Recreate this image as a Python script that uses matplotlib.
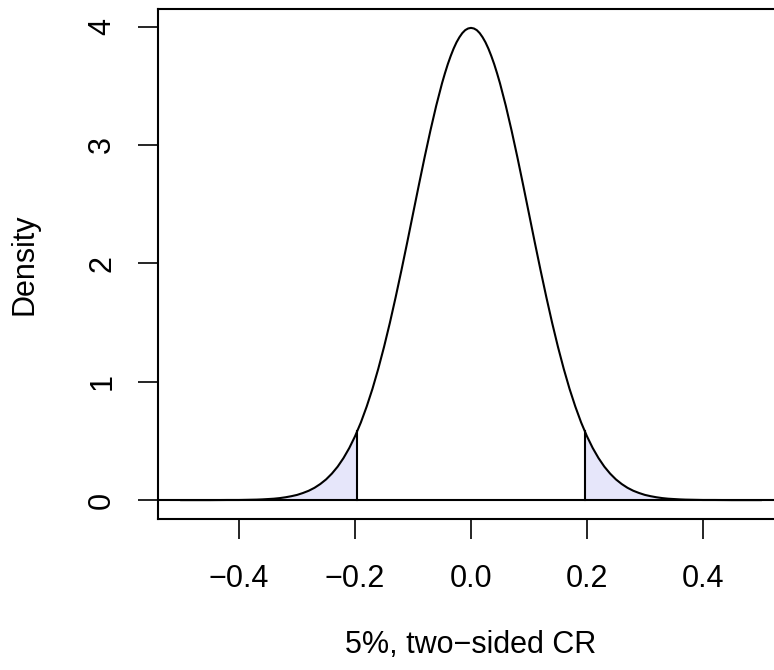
import numpy as np
import matplotlib
matplotlib.use("Agg")
from matplotlib import pyplot as plt

# density curve (sampling dist. of the estimate)
x_pts = [-0.50, -0.45, -0.42, -0.40, -0.39, -0.38, -0.37, -0.36, -0.35, -0.34,
         -0.33, -0.32, -0.31, -0.30, -0.29, -0.28, -0.27, -0.26, -0.25, -0.24,
         -0.23, -0.22, -0.21, -0.20, -0.19, -0.18, -0.17, -0.16, -0.15, -0.14,
         -0.13, -0.12, -0.11, -0.10, -0.09, -0.08, -0.07, -0.06, -0.05, -0.045,
         -0.04, -0.035, -0.03, -0.025, -0.02, -0.015, -0.01, -0.005,
         0.0,
         0.005, 0.01, 0.015, 0.02, 0.025, 0.03, 0.035, 0.04, 0.045, 0.05,
         0.06, 0.07, 0.08, 0.09, 0.10, 0.11, 0.12, 0.13, 0.14, 0.15,
         0.16, 0.17, 0.18, 0.19, 0.20, 0.21, 0.22, 0.23, 0.24, 0.25,
         0.26, 0.27, 0.28, 0.29, 0.30, 0.31, 0.32, 0.33, 0.34, 0.35,
         0.36, 0.37, 0.38, 0.39, 0.40, 0.42, 0.45, 0.50]
dens_pts = [0.000, 0.000, 0.001, 0.001, 0.002, 0.003, 0.004, 0.006, 0.009, 0.012,
            0.017, 0.024, 0.033, 0.044, 0.060, 0.079, 0.104, 0.136, 0.175, 0.224,
            0.283, 0.355, 0.440, 0.540, 0.656, 0.790, 0.940, 1.109, 1.295, 1.497,
            1.714, 1.942, 2.178, 2.420, 2.661, 2.897, 3.122, 3.332, 3.521, 3.605,
            3.683, 3.752, 3.814, 3.867, 3.910, 3.945, 3.970, 3.984,
            3.989,
            3.984, 3.970, 3.945, 3.910, 3.867, 3.814, 3.752, 3.683, 3.605, 3.521,
            3.332, 3.122, 2.897, 2.661, 2.420, 2.178, 1.942, 1.714, 1.497, 1.295,
            1.109, 0.940, 0.790, 0.656, 0.540, 0.440, 0.355, 0.283, 0.224, 0.175,
            0.136, 0.104, 0.079, 0.060, 0.044, 0.033, 0.024, 0.017, 0.012, 0.009,
            0.006, 0.004, 0.003, 0.002, 0.001, 0.001, 0.000, 0.000]
crit_x = [-0.196, 0.196]
crit_dens = [0.584, 0.584]

xticks = [-0.4, -0.2, 0.0, 0.2, 0.4]
xtick_labels = ["\u22120.4", "\u22120.2", "0.0", "0.2", "0.4"]
yticks = [0, 1, 2, 3, 4]
ytick_labels = ["0", "1", "2", "3", "4"]
xlab = "5%, two\u2212sided CR"
ylab = "Density"

plt.rcParams['font.family'] = ['Liberation Sans', 'DejaVu Sans']
plt.rcParams['font.size'] = 22

x = np.array(x_pts)
dens = np.array(dens_pts)

fig = plt.figure(figsize=(7.74, 6.70), dpi=100)
ax = fig.add_axes([158 / 774, 151 / 670, 626 / 774, 510 / 670])

lav = "#E6E6FA"
# tails beyond the critical values
lm = x < crit_x[0]
rm = x > crit_x[1]
ax.fill_between(np.append(x[lm], crit_x[0]), 0, np.append(dens[lm], crit_dens[0]),
                color=lav, lw=0)
ax.fill_between(np.insert(x[rm], 0, crit_x[1]), 0, np.insert(dens[rm], 0, crit_dens[1]),
                color=lav, lw=0)
ax.plot(x, dens, color="black", lw=1.5)
for cx, cd in zip(crit_x, crit_dens):
    ax.plot([cx, cx], [0, cd], color="black", lw=1.5)
ax.axhline(0, color="black", lw=1.5)

ymax = dens.max()
ax.set_xlim(-0.54, 0.54)
ax.set_ylim(-0.04 * ymax, ymax * 1.04)

ax.set_xticks(xticks)
ax.set_xticklabels(xtick_labels)
ax.set_yticks(yticks)
ax.set_yticklabels(ytick_labels, rotation=90, va="center")
ax.tick_params(length=14.4, width=1.2, direction="out", colors="black")
ax.tick_params(axis="x", pad=18)
ax.tick_params(axis="y", pad=15)
for s in ax.spines.values():
    s.set_linewidth(1.5)

fig.text(471 / 774, 1 - 645 / 670, xlab, ha="center", va="center")
fig.text(25 / 774, 1 - 264 / 670, ylab, ha="center", va="center", rotation=90)

plt.savefig("out.png", dpi=100)
